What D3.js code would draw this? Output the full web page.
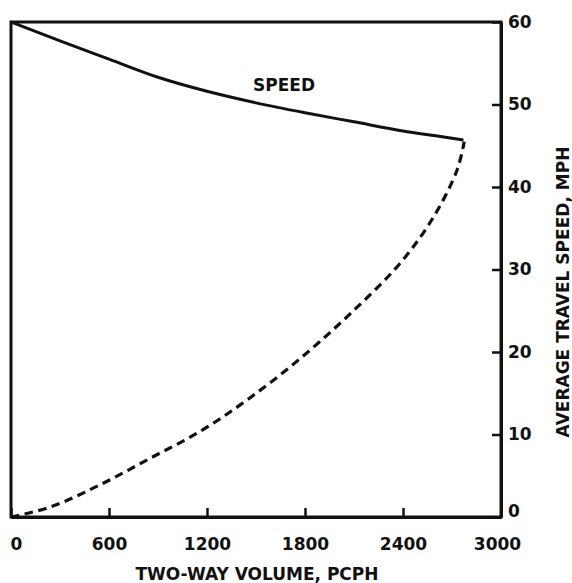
<!DOCTYPE html>
<html>
<head>
<meta charset="utf-8">
<script src="https://cdn.jsdelivr.net/npm/d3@7"></script>
<style>
  html, body { margin: 0; padding: 0; background: #ffffff; }
  svg { display: block; }
  text { font-family: "DejaVu Sans", sans-serif; font-weight: bold; fill: #111; }
</style>
</head>
<body>
<script>
// Tick values for both axes
const volumeTicks = [0, 600, 1200, 1800, 2400, 3000];
const speedTicks = [0, 10, 20, 30, 40, 50, 60];

// Uncongested branch: two-way volume (pcph) vs average travel speed (mph)
const speedVolume = [0, 300, 600, 900, 1200, 1500, 1800, 2100, 2400, 2600, 2770];
const speedValues = [60, 57.7, 55.5, 53.3, 51.6, 50.2, 49.0, 47.9, 46.8, 46.2, 45.7];

// Congested (forced-flow) branch, drawn dashed
const forcedVolume = [0, 240, 545, 850, 1160, 1460, 1770, 2075, 2380, 2585, 2730, 2775];
const forcedValues = [0, 1.2, 3.9, 7.1, 10.4, 14.4, 19.2, 24.6, 30.7, 36.3, 42.0, 45.5];

const W = 572, H = 583;
const svg = d3.select("body").append("svg").attr("width", W).attr("height", H);

const x = d3.scaleLinear().domain([0, 3000]).range([11, 501]);
const y = d3.scaleLinear().domain([0, 60]).range([517, 22]);

const ink = "#111";
const fontSize = 17;

// Plot frame
svg.append("rect")
  .attr("x", x(0)).attr("y", y(60))
  .attr("width", x(3000) - x(0)).attr("height", y(0) - y(60))
  .attr("fill", "none").attr("stroke", ink).attr("stroke-width", 3);

// Bottom axis, ticks pointing into the plot
const xAxis = svg.append("g")
  .attr("transform", `translate(0,${y(0)})`)
  .call(d3.axisBottom(x).tickValues(volumeTicks).tickFormat(d3.format("d"))
    .tickSizeInner(-9).tickSizeOuter(0).tickPadding(21));
xAxis.select(".domain").attr("stroke", ink).attr("stroke-width", 3);
xAxis.selectAll(".tick line").attr("stroke", ink).attr("stroke-width", 2.5);
xAxis.selectAll(".tick text").attr("font-size", fontSize).attr("fill", ink)
  .style("font-family", "'DejaVu Sans', sans-serif").style("font-weight", "bold")
  .attr("dx", d => d === 0 ? 5 : (d === 3000 ? -4 : 0));

// Right axis, ticks pointing into the plot
const yAxis = svg.append("g")
  .attr("transform", `translate(${x(3000)},0)`)
  .call(d3.axisRight(y).tickValues(speedTicks).tickFormat(d3.format("d"))
    .tickSizeInner(-9).tickSizeOuter(0).tickPadding(7));
yAxis.select(".domain").attr("stroke", ink).attr("stroke-width", 3);
yAxis.selectAll(".tick line").attr("stroke", ink).attr("stroke-width", 2.5);
yAxis.selectAll(".tick text").attr("font-size", fontSize).attr("fill", ink)
  .style("font-family", "'DejaVu Sans', sans-serif").style("font-weight", "bold")
  .attr("dy", d => d === 0 ? "-0.05em" : "0.32em");

// Axis titles
svg.append("text")
  .attr("x", 257).attr("y", 580)
  .attr("text-anchor", "middle").attr("font-size", fontSize)
  .text("TWO-WAY VOLUME, PCPH");

svg.append("text")
  .attr("transform", `translate(563,292) rotate(-90)`)
  .attr("text-anchor", "middle").attr("dy", "0.35em").attr("font-size", fontSize)
  .text("AVERAGE TRAVEL SPEED, MPH");

// Curves
const line = d3.line().x(d => x(d[0])).y(d => y(d[1])).curve(d3.curveMonotoneX);

svg.append("path")
  .datum(d3.zip(speedVolume, speedValues))
  .attr("d", line)
  .attr("fill", "none").attr("stroke", ink).attr("stroke-width", 3);

const lineForced = d3.line().x(d => x(d[0])).y(d => y(d[1])).curve(d3.curveCatmullRom);
svg.append("path")
  .datum(d3.zip(forcedVolume, forcedValues))
  .attr("d", lineForced)
  .attr("fill", "none").attr("stroke", ink).attr("stroke-width", 3.2)
  .attr("stroke-dasharray", "8.5,5.5");

// Curve label
svg.append("text")
  .attr("x", 284).attr("y", 85)
  .attr("text-anchor", "middle").attr("dy", "0.35em").attr("font-size", fontSize)
  .text("SPEED");
</script>
</body>
</html>
